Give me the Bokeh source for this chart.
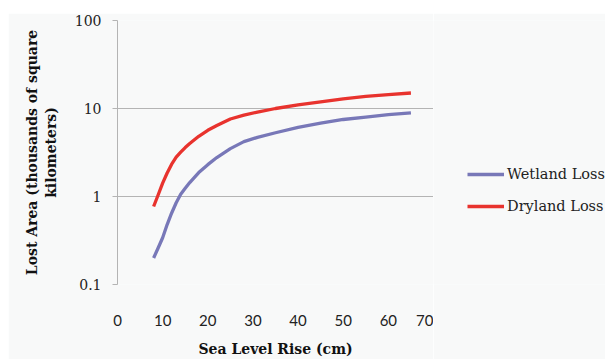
from bokeh.plotting import figure
from bokeh.layouts import row
from bokeh.models import ColumnDataSource, FixedTicker, Legend, LegendItem, Range1d
from bokeh.embed import file_html
from bokeh.resources import INLINE

# --- data ---
sea_level_cm = [8, 9, 10, 11, 12, 13, 14, 15, 16, 18, 20, 22, 25, 28, 31, 35, 40, 45, 50, 55, 60, 65]
wetland_loss = [0.2, 0.26, 0.34, 0.48, 0.65, 0.85, 1.06, 1.24, 1.44, 1.87, 2.3, 2.77, 3.5, 4.2, 4.7,
                5.3, 6.1, 6.8, 7.5, 8.0, 8.5, 8.9]
dryland_loss = [0.77, 1.04, 1.42, 1.85, 2.33, 2.8, 3.19, 3.6, 4.0, 4.83, 5.65, 6.4, 7.6, 8.4, 9.1,
                10.0, 11.0, 11.9, 12.9, 13.7, 14.4, 15.0]
series_names = ["Wetland Loss", "Dryland Loss"]
x_ticks = [0, 10, 20, 30, 40, 50, 60, 70]
y_ticks = [0.1, 1, 10, 100]
y_tick_labels = ["0.1", "1", "10", "100"]

BG = "#f8f9f9"
GRID = "#b4b4b4"
WET = "#7878b8"
DRY = "#e8332e"
SERIF = "DejaVu Serif"
LW = 3.3

src = ColumnDataSource(dict(x=sea_level_cm, wet=wetland_loss, dry=dryland_loss))

p = figure(width=425, height=346, output_backend="svg", toolbar_location=None,
           y_axis_type="log", x_range=Range1d(0, 70), y_range=Range1d(0.1, 100),
           min_border_left=109, min_border_right=0, min_border_top=7, min_border_bottom=72,
           background_fill_color=BG, border_fill_color=BG, outline_line_color=None)
p.margin = (13, 0, 0, 8)

p.line("x", "wet", source=src, line_color=WET, line_width=LW, line_join="round")
p.line("x", "dry", source=src, line_color=DRY, line_width=LW, line_join="round")

# x axis
xa = p.xaxis[0]
xa.ticker = FixedTicker(ticks=x_ticks)
xa.axis_line_color = None
xa.major_tick_line_color = None
xa.minor_tick_line_color = None
xa.major_label_standoff = 24
xa.major_label_text_font = "Lato"
xa.major_label_text_font_size = "15px"
xa.major_label_text_color = "#222222"
xa.axis_label = "Sea Level Rise (cm)"
xa.axis_label_text_font = SERIF
xa.axis_label_text_font_style = "bold"
xa.axis_label_text_font_size = "14px"
xa.axis_label_text_color = "#111111"
xa.axis_label_standoff = 12
p.xgrid.grid_line_color = None

# y axis
ya = p.yaxis[0]
ya.ticker = FixedTicker(ticks=y_ticks)
ya.major_label_overrides = {t: s for t, s in zip(y_ticks, y_tick_labels)}
ya.axis_line_color = GRID
ya.major_tick_line_color = GRID
ya.major_tick_out = 5
ya.major_tick_in = 0
ya.minor_tick_line_color = None
ya.major_label_standoff = 11
ya.major_label_text_font = SERIF
ya.major_label_text_font_size = "14px"
ya.major_label_text_color = "#222222"
ya.axis_label = "Lost Area (thousands of square\nkilometers)"
ya.axis_label_text_font = SERIF
ya.axis_label_text_font_style = "bold"
ya.axis_label_text_font_size = "14px"
ya.axis_label_text_color = "#111111"
ya.axis_label_standoff = 13
p.ygrid.ticker = FixedTicker(ticks=y_ticks)
p.ygrid.grid_line_color = GRID
p.ygrid.grid_line_width = 1

# legend panel (separate figure to the right of the plot area)
lp = figure(width=172, height=346, output_backend="svg", toolbar_location=None,
            x_range=Range1d(0, 1), y_range=Range1d(0, 1),
            x_axis_location=None, y_axis_location=None,
            min_border_left=0, min_border_right=0, min_border_top=0, min_border_bottom=0,
            background_fill_color=BG, border_fill_color=BG, outline_line_color=None)
lp.margin = (13, 0, 0, 0)
lp.xgrid.grid_line_color = None
lp.ygrid.grid_line_color = None
lw_r = lp.line("x", "wet", source=src, line_color=WET, line_width=LW, visible=False)
ld_r = lp.line("x", "dry", source=src, line_color=DRY, line_width=LW, visible=False)

legend = Legend(items=[LegendItem(label=series_names[0], renderers=[lw_r]),
                       LegendItem(label=series_names[1], renderers=[ld_r])],
                location=(34, 68), orientation="vertical",
                background_fill_alpha=0, border_line_color=None,
                padding=0, margin=0, spacing=12,
                glyph_width=37, glyph_height=20, label_height=20, label_standoff=3,
                label_text_font=SERIF, label_text_font_size="14.5px", label_text_color="#222222")
lp.add_layout(legend, "center")

open("out.html", "w").write(file_html(row(p, lp), INLINE))
